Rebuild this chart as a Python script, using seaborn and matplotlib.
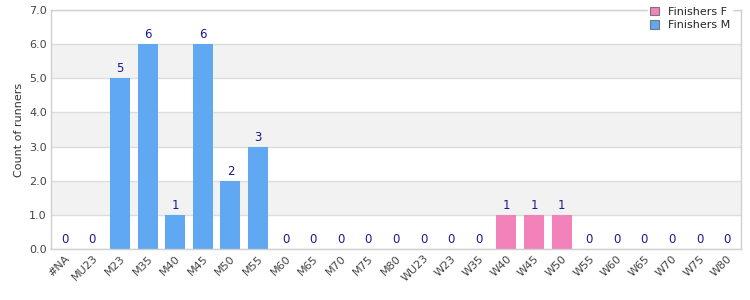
import matplotlib
matplotlib.use("Agg")
import matplotlib.pyplot as plt
import seaborn as sns
import pandas as pd
from matplotlib.patches import Patch

categories = ["#NA", "MU23", "M23", "M35", "M40", "M45", "M50", "M55", "M60", "M65",
              "M70", "M75", "M80", "WU23", "W23", "W35", "W40", "W45", "W50", "W55",
              "W60", "W65", "W70", "W75", "W80"]
finishers_f = [0, 0, 0, 0, 0, 0, 0, 0, 0, 0, 0, 0, 0, 0, 0, 0, 1, 1, 1, 0, 0, 0, 0, 0, 0]
finishers_m = [0, 0, 5, 6, 1, 6, 2, 3, 0, 0, 0, 0, 0, 0, 0, 0, 0, 0, 0, 0, 0, 0, 0, 0, 0]
y_ticks = [0, 1, 2, 3, 4, 5, 6, 7]

sns.set_style("white")
plt.rcParams['font.family'] = ['DejaVu Sans']

df = pd.DataFrame({"cat": categories, "F": finishers_f, "M": finishers_m})
df["total"] = df["F"] + df["M"]

fig = plt.figure(figsize=(7.5, 3), dpi=100)
ax = fig.add_axes([0.068, 0.17, 0.92, 0.797])

pink = "#f282b9"
blue = "#60a8f2"

# alternating bands
for i in range(0, 7):
    if i % 2 == 1:
        ax.axhspan(i, i + 1, color="#f2f2f2", zorder=0, lw=0)
for t in y_ticks:
    ax.axhline(t, color="#dddddd", lw=1, zorder=0.5)

sns.barplot(data=df, x="cat", y="M", color=blue, width=0.72, ax=ax, zorder=2,
            saturation=1, linewidth=0, edgecolor="none")
sns.barplot(data=df, x="cat", y="F", color=pink, width=0.72, ax=ax, zorder=2,
            saturation=1, bottom=df["M"], linewidth=0, edgecolor="none")

for i, v in enumerate(df["total"]):
    ax.text(i, v + 0.08, f"{v}", ha="center", va="bottom", fontsize=8.5, color="#1a1a8c")

ax.set_xlim(-0.5, len(categories) - 0.5)
ax.set_ylim(0, 7)
ax.set_yticks(y_ticks)
ax.set_yticklabels([f"{t:.1f}" for t in y_ticks], fontsize=8, color="#444444")
ax.set_xticks(range(len(categories)))
ax.set_xticklabels(categories, rotation=45, ha="right", rotation_mode="anchor",
                   fontsize=8, color="#444444")
ax.tick_params(axis="both", length=0, pad=3)
ax.set_xlabel("")
ax.set_ylabel("Count of runners", fontsize=8, color="#333333")
for s in ax.spines.values():
    s.set_color("#d0d0d0")
    s.set_linewidth(1)

handles = [Patch(facecolor=pink, edgecolor="#777777", lw=0.8, label="Finishers F"),
           Patch(facecolor=blue, edgecolor="#777777", lw=0.8, label="Finishers M")]
leg = ax.legend(handles=handles, loc="upper right", bbox_to_anchor=(0.995, 1.045),
                frameon=True, fontsize=8, handlelength=0.8, handleheight=0.8,
                borderpad=0.2, labelspacing=0.3, handletextpad=0.8, edgecolor="white",
                fancybox=False, framealpha=1)
leg.set_zorder(5)

fig.savefig("out.png", dpi=100)
